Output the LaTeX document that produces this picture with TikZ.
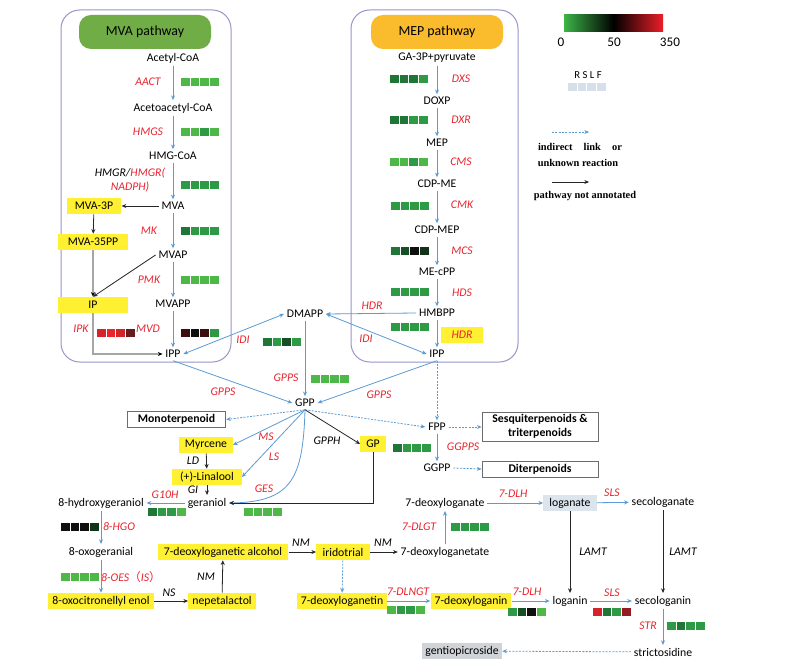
\documentclass[tikz,border=0pt]{standalone}
\usepackage{fontspec}
\setmainfont{Carlito}
\newfontfamily\legfont{Liberation Serif}
\newfontfamily\cjkfont{Noto Sans CJK SC}
\usetikzlibrary{arrows.meta,calc}
\definecolor{lblue}{RGB}{91,155,213}
\definecolor{ered}{RGB}{232,36,46}
\definecolor{pboxc}{RGB}{150,150,200}
\definecolor{ylw}{RGB}{255,240,50}
\definecolor{mvag}{RGB}{112,173,71}
\definecolor{mepo}{RGB}{250,187,45}
\definecolor{lgb}{RGB}{220,228,236}
\definecolor{gpbox}{RGB}{208,212,216}
\definecolor{hg1}{RGB}{77,184,72}
\definecolor{hg2}{RGB}{46,154,69}
\definecolor{hg3}{RGB}{32,118,54}
\definecolor{hg4}{RGB}{22,78,38}
\definecolor{hg5}{RGB}{18,50,26}
\definecolor{hk}{RGB}{15,15,15}
\definecolor{hdk}{RGB}{60,14,16}
\definecolor{hr}{RGB}{214,34,42}
\definecolor{hr2}{RGB}{232,38,44}
\definecolor{hr3}{RGB}{150,26,34}
\definecolor{hmr}{RGB}{105,26,30}
\definecolor{legsq}{RGB}{214,224,234}
\definecolor{barg}{RGB}{60,180,72}
\definecolor{barr}{RGB}{236,30,40}
\tikzset{
  met/.style={font=\fontsize{8.8}{10}\selectfont, inner sep=2pt},
  enz/.style={font=\fontsize{8.8}{9.8}\selectfont\itshape, text=ered, inner sep=1pt},
  enzk/.style={font=\fontsize{8.8}{9.8}\selectfont\itshape, text=black, inner sep=1pt},
  ybox/.style={met, fill=ylw, minimum height=12pt, inner xsep=3pt},
  obox/.style={draw=gray!85!black, line width=0.6pt, font=\fontsize{8.8}{10.5}\selectfont\bfseries, align=center, inner sep=1pt},
  barrow/.style={draw=lblue, line width=0.6pt, -{Stealth[length=3.5pt,width=3pt]}},
  bboth/.style={draw=lblue, line width=0.6pt, {Stealth[length=3.5pt,width=3pt]}-{Stealth[length=3.5pt,width=3pt]}},
  bdash/.style={barrow, dash pattern=on 1.5pt off 1pt},
  karrow/.style={draw=black!85, line width=0.6pt, -{Stealth[length=3.5pt,width=3pt]}},
  garrow/.style={draw=gray!70, line width=1pt, -{Stealth[length=3.5pt,width=3pt,color=black]}},
  pbox/.style={draw=pboxc, line width=0.75pt, rounded corners=14pt},
  head/.style={rounded corners=9pt, minimum width=99pt, minimum height=25.5pt, font=\fontsize{10.4}{12}\selectfont},
  leg/.style={font=\legfont\bfseries\fontsize{7.8}{9}\selectfont, inner sep=0pt},
}
\newcommand{\heatrow}[6]{%
  \foreach \hc [count=\hi from 0] in {#3,#4,#5,#6}{\fill[\hc] ({#1+\hi*9.7},{#2-4.3}) rectangle ++(8.6,8.6);}}
\begin{document}
\begin{tikzpicture}[x=0.75pt,y=-0.75pt]
\useasboundingbox (0,0) rectangle (791,666);
\fill[white] (0,0) rectangle (791,666);

% ---------- pathway boxes ----------
\draw[pbox] (61,10) rectangle (231,362);
\draw[pbox] (351,10) rectangle (518,362);
\node[head, fill=mvag] (mvah) at (145,32) {MVA pathway};
\node[head, fill=mepo] (meph) at (437,32) {MEP pathway};

% ---------- MVA column ----------
\node[met] (acoa) at (173,58) {Acetyl-CoA};
\node[met] (aacoa) at (173,108) {Acetoacetyl-CoA};
\node[met] (hmgcoa) at (173,156) {HMG-CoA};
\node[met] (mva) at (173,206) {MVA};
\node[met] (mvap) at (173,255) {MVAP};
\node[met] (mvapp) at (173,304) {MVAPP};
\node[met] (ippa) at (173,354) {IPP};
\node[enz] (laact) at (148,82) {AACT};
\node[enz] (lhmgs) at (148,132) {HMGS};
\node[enz, align=center] (lhmgr) at (130,180) {{\color{black}HMGR/}HMGR(\\NADPH)};
\node[enz] (lmk) at (149,231) {MK};
\node[enz] (lpmk) at (149,280) {PMK};
\node[enz] (lmvd) at (148,329) {MVD};
\node[enz] (lipk) at (81,329) {IPK};
\heatrow{181}{82}{hg1}{hg1}{hg1}{hg1}
\heatrow{181}{132}{hg1}{hg1}{hg2}{hg1}
\heatrow{181}{185}{hg2}{hg2}{hg2}{hg2}
\heatrow{181}{231}{hg3}{hg2}{hg2}{hg2}
\heatrow{181}{280}{hg1}{hg1}{hg1}{hg1}
\heatrow{181}{333}{hdk}{hk}{hdk}{hg2}
\heatrow{97}{333}{hr}{hr2}{hr}{hmr}
\node[ybox, minimum width=41pt] (mva3p) at (94,206) {MVA-3P};
\node[ybox, minimum width=52pt] (mva35pp) at (93,242) {MVA-35PP};
\node[ybox, minimum width=52pt] (ip) at (93,305) {IP};
\draw[barrow] (acoa) -- (aacoa);
\draw[barrow] (aacoa) -- (hmgcoa);
\draw[barrow] (hmgcoa) -- (mva);
\draw[barrow] (mva) -- (mvap);
\draw[barrow] (mvap) -- (mvapp);
\draw[barrow] (mvapp) -- (ippa);
\draw[karrow] (mva) -- (mva3p);
\draw[karrow] (mva3p) -- (mva35pp);
\draw[garrow] (mva35pp) -- (ip);
\draw[karrow] (mvap.west) -- (ip.north);
\draw[garrow] (ip.south) |- (ippa.west);

% ---------- MEP column ----------
\node[met] (ga3p) at (437,58) {GA-3P+pyruvate};
\node[met] (doxp) at (437,101) {DOXP};
\node[met] (mep) at (437,143) {MEP};
\node[met] (cdpme) at (437,184) {CDP-ME};
\node[met] (cdpmep) at (437,230) {CDP-MEP};
\node[met] (mecpp) at (437,272) {ME-cPP};
\node[met] (hmbpp) at (437,313) {HMBPP};
\node[met] (ippb) at (437,354) {IPP};
\node[enz] (ldxs) at (461,79) {DXS};
\node[enz] (ldxr) at (461,120) {DXR};
\node[enz] (lcms) at (461,162) {CMS};
\node[enz] (lcmk) at (462,205) {CMK};
\node[enz] (lmcs) at (462,251) {MCS};
\node[enz] (lhds) at (462,293) {HDS};
\node[ybox, minimum width=31pt, font=\fontsize{8.8}{10}\selectfont\itshape, text=ered] (hdrb) at (462,335) {HDR};
\node[enz] (lhdr) at (372,306) {HDR};
\node[enz] (lidib) at (366,339) {IDI};
\heatrow{390}{79}{hg3}{hg3}{hg3}{hg2}
\heatrow{390}{120}{hg3}{hg3}{hg2}{hg2}
\heatrow{390}{162}{hg1}{hg1}{hg2}{hg1}
\heatrow{391}{206}{hg2}{hg2}{hg2}{hg2}
\heatrow{391}{251}{hg3}{hg4}{hk}{hg5}
\heatrow{391}{292}{hg2}{hg2}{hg2}{hg2}
\heatrow{391}{327}{hg2}{hg2}{hg2}{hg2}
\draw[barrow] (ga3p) -- (doxp);
\draw[barrow] (doxp) -- (mep);
\draw[barrow] (mep) -- (cdpme);
\draw[barrow] (cdpme) -- (cdpmep);
\draw[barrow] (cdpmep) -- (mecpp);
\draw[barrow] (mecpp) -- (hmbpp);
\draw[barrow] (hmbpp) -- (ippb);

% ---------- DMAPP / GPP ----------
\node[met] (dmapp) at (305,314) {DMAPP};
\node[enz] (lidia) at (243,340) {IDI};
\heatrow{263}{342}{hg3}{hg2}{hg4}{hg2}
\draw[barrow] (hmbpp.west) -- (dmapp.east);
\draw[bboth] (dmapp.east) -- (ippb.west);
\draw[bboth] (dmapp.west) -- (ippa.east);
\node[met] (gpp) at (305,403) {GPP};
\node[enz] (lgpps1) at (223,392) {GPPS};
\node[enz] (lgpps2) at (286,378) {GPPS};
\node[enz] (lgpps3) at (379,395) {GPPS};
\heatrow{311}{379}{hg1}{hg1}{hg1}{hg1}
\draw[barrow] (dmapp) -- (gpp);
\draw[barrow] (ippa.south) -- (gpp.west);
\draw[barrow] (ippb.south) -- (gpp.east);

\node[obox, minimum width=74pt, minimum height=11.6pt] (mono) at (176.5,419.5) {Monoterpenoid};
\node[met] (fpp) at (437,427) {FPP};
\node[obox, minimum width=87pt, minimum height=21.8pt] (sesq) at (540,426.5) {Sesquiterpenoids \&\\triterpenoids};
\node[enz] (lggpps) at (463,447) {GGPPS};
\heatrow{393}{448}{hg3}{hg2}{hg2}{hg2}
\node[met] (ggpp) at (437,468) {GGPP};
\node[obox, minimum width=87pt, minimum height=12pt] (dit) at (540,469) {Diterpenoids};
\draw[bdash] (ippb) -- (fpp);
\draw[bdash] (gpp.south) -- (fpp.west);
\draw[bdash] (gpp.south) -- (mono.east);
\draw[bdash] (fpp.east) -- (sesq.west |- fpp.east);
\draw[barrow] (fpp) -- (ggpp);
\draw[bdash] (ggpp.east) -- (dit.west);

% ---------- monoterpene branch ----------
\node[ybox, minimum width=19pt] (gp) at (373,444) {GP};
\node[enzk] (lgpph) at (327,441) {GPPH};
\node[ybox, minimum width=40pt] (myr) at (206,445) {Myrcene};
\node[enz] (lms) at (266,437) {MS};
\node[enz] (lls) at (274,457) {LS};
\node[ybox, minimum width=52pt] (lin) at (207,477) {(+)-Linalool};
\node[enzk] (lld) at (193,461) {LD};
\node[enzk] (lgi) at (193,490) {GI};
\node[enz] (lges) at (264,489) {GES};
\node[met] (ger) at (207,503) {geraniol};
\heatrow{244}{512}{hg1}{hg1}{hg1}{hg1}
\draw[karrow] (gpp.south) -- (gp.west);
\draw[barrow] (gpp.south) -- (myr.east);
\draw[barrow] (gpp.south) -- (lin.east);
\draw[barrow] (gpp.south) .. controls (303,478) and (292,502) .. (ger.east);
\draw[karrow] (gp.south) |- (ger.east);
\draw[karrow] (myr) -- (lin);
\draw[karrow] (lin) -- (ger);

\node[met] (hger) at (101,503) {8-hydroxygeraniol};
\node[enz] (lg10h) at (165,495) {G10H};
\heatrow{148}{512}{hg3}{hg2}{hg2}{hg1}
\draw[barrow] (ger.west) -- (hger.east);
\node[enz] (lhgo) at (119,527) {8-HGO};
\heatrow{61}{527}{hk}{hk}{hk}{hg5}
\node[met] (oger) at (101,552) {8-oxogeranial};
\node[enz] (loes) at (131,577) {8-OES{\cjkfont （}IS{\cjkfont ）}};
\heatrow{61}{577}{hg1}{hg1}{hg1}{hg1}
\node[ybox, minimum width=77pt] (oce) at (101,601) {8-oxocitronellyl enol};
\draw[barrow] (hger) -- (oger);
\draw[barrow] (oger) -- (oce);

\node[ybox, minimum width=48pt] (nep) at (222,601) {nepetalactol};
\node[enzk] (lns) at (169,593) {NS};
\node[enzk] (lnm1) at (206,577) {NM};
\node[ybox, minimum width=98pt] (dla) at (223,552) {7-deoxyloganetic alcohol};
\node[enzk] (lnm2) at (301,543) {NM};
\node[ybox, minimum width=40pt] (iri) at (343,552) {iridotrial};
\node[enzk] (lnm3) at (383,543) {NM};
\node[met] (dlgt) at (445,552) {7-deoxyloganetate};
\node[enz] (l7dlgt) at (419,527) {7-DLGT};
\heatrow{451}{527}{hg2}{hg2}{hg2}{hg2}
\node[met] (dlga) at (445,503) {7-deoxyloganate};
\node[enz] (l7dlh1) at (513,494) {7-DLH};
\draw[karrow] (oce) -- (nep);
\draw[karrow] (nep) -- (dla);
\draw[karrow] (dla) -- (iri);
\draw[karrow] (iri) -- (dlgt);
\draw[barrow] (dlgt) -- (dlga);

\node[ybox, minimum width=67pt] (dln) at (342,601) {7-deoxyloganetin};
\node[enz] (l7dlngt) at (408,592) {7-DLNGT};
\heatrow{387}{610}{hg1}{hg2}{hg2}{hg1}
\node[ybox, minimum width=58.5pt] (dlnin) at (471,601) {7-deoxyloganin};
\node[enz] (l7dlh2) at (527,592) {7-DLH};
\heatrow{508}{612}{hg2}{hg4}{hk}{hg1}
\draw[bdash] (iri) -- (dln);
\draw[barrow] (dln) -- (dlnin);

% ---------- loganin / secologanin ----------
\node[met, fill=lgb, minimum width=40pt, minimum height=12pt] (logt) at (570,503) {loganate};
\node[enz] (lsls1) at (612,493) {SLS};
\node[met] (seclogt) at (663,502) {secologanate};
\node[enzk] (llamt1) at (593,552) {LAMT};
\node[enzk] (llamt2) at (683,552) {LAMT};
\node[met] (logn) at (570,601) {loganin};
\node[enz] (lsls2) at (612,593) {SLS};
\heatrow{593}{612}{hr}{hg3}{hg2}{hr3}
\node[met] (seclogn) at (663,601) {secologanin};
\node[enz] (lstr) at (648,626) {STR};
\heatrow{667}{626}{hg2}{hg3}{hg2}{hg2}
\node[met] (stri) at (663,652) {strictosidine};
\node[met, fill=gpbox, minimum width=60pt, minimum height=12pt] (gent) at (462,651) {gentiopicroside};
\draw[barrow] (dlga) -- (logt);
\draw[barrow] (dlnin) -- (logn);
\draw[barrow] (logt) -- (seclogt);
\draw[karrow] (logt) -- (logn);
\draw[karrow] (seclogt) -- (seclogn);
\draw[barrow] (logn) -- (seclogn);
\draw[barrow] (seclogn) -- (stri);
\draw[bdash] (stri) -- (gent);

% ---------- legend ----------
\shade[left color=barg, right color=barr, middle color=black] (564,15) rectangle (663,32);
\node[font=\fontsize{9.9}{11}\selectfont, inner sep=0pt] (t0) at (561,42) {0};
\node[font=\fontsize{9.9}{11}\selectfont, inner sep=0pt] (t50) at (614,42) {50};
\node[font=\fontsize{9.9}{11}\selectfont, inner sep=0pt] (t350) at (670,42) {350};
\node[font=\fontsize{8}{9}\selectfont, inner sep=0pt] (rslf) at (588,75) {R S L F};
\heatrow{568}{87}{legsq}{legsq}{legsq}{legsq}
\coordinate (ld1) at (552,132);
\coordinate (ld2) at (589,132);
\draw[bdash] (ld1) -- (ld2);
\node[leg] (legt1) at (580,147) {\hbox to 63pt{indirect\hfill link\hfill or}};
\node[leg] (legt2) at (578,163) {unknown reaction};
\coordinate (lk1) at (552,182);
\coordinate (lk2) at (589,182);
\draw[karrow] (lk1) -- (lk2);
\node[leg] (legt3) at (585,196) {pathway not annotated};
\end{tikzpicture}
\end{document}
